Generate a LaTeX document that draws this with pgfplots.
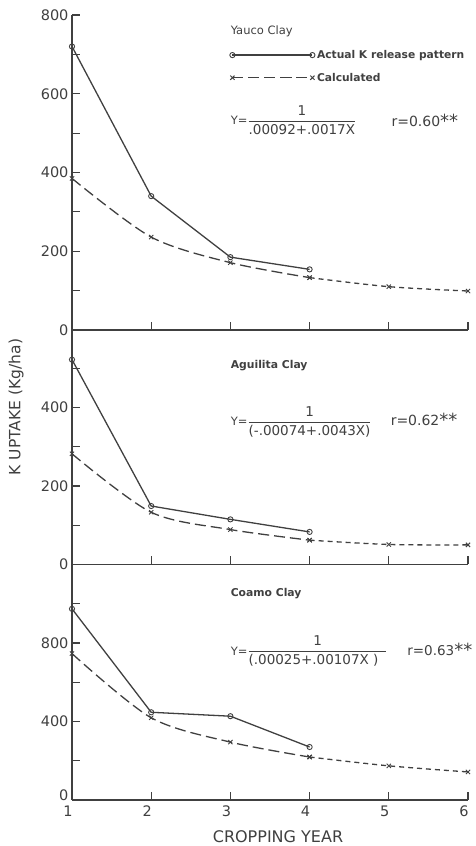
\documentclass[border=0pt]{standalone}
\usepackage{pgfplots}
\pgfplotsset{compat=1.18}
\usepackage{amsmath}
\usepackage{fontspec}
\setmainfont{DejaVu Sans}
\definecolor{ink}{gray}{0.25}

\newcommand{\stars}{\raisebox{-0.1em}{\fontsize{18}{18}\selectfont **}}
\newcommand{\Yeq}{\text{\fontsize{11.5}{11.5}\selectfont Y=}}
\tikzset{lbl/.style={anchor=west, text=ink}}
\pgfplotsset{
  panel/.style={
    width=396pt, scale only axis,
    xmin=1, xmax=6, ymin=0,
    axis x line=bottom, axis y line=left,
    axis line style={-, ink, line width=1.3pt},
    tick style={ink, line width=1.1pt},
    tick align=inside,
    major tick length=8pt, minor tick length=8pt,
    xtick={2,3,4,5,6}, xticklabels={},
    clip=false,
    ticklabel style={font=\fontsize{14.5}{14.5}\selectfont, text=ink},
    /pgf/number format/assume math mode=true,
    every axis plot/.append style={ink, line width=1.3pt},
  },
  actual/.style={solid, mark=o, mark size=2.6pt,
    mark options={solid, fill=white, line width=0.9pt}},
  calc/.style={smooth, dash pattern=on 11pt off 5pt, mark=x, mark size=3pt,
    mark options={solid, line width=0.9pt}},
  calcx/.style={smooth, dash pattern=on 5pt off 4pt, mark=x, mark size=3pt,
    mark options={solid, line width=0.9pt}},
}

\begin{document}
\begin{tikzpicture}
\useasboundingbox (0,0) rectangle (476pt,846pt);

% Yauco Clay
\begin{axis}[panel, height=315pt, at={(72pt,516pt)}, anchor=south west,
  ymax=800, ytick={0,200,400,600,800}, minor ytick={100,300,500,700},
  legend style={at={(axis cs:2.99,716)}, anchor=north west, draw=none, fill=none,
    font=\bfseries\fontsize{10.7}{10.7}\selectfont, text=ink,
    cells={anchor=west}, row sep=9pt, inner sep=0pt},
  legend image code/.code={\draw[#1] plot coordinates {(0pt,0pt) (80pt,0pt)};},
]
\addplot[actual] coordinates {(1,720) (2,340) (3,185) (4,154)};
\addlegendentry{Actual K release pattern}
\addplot[calc] coordinates {(1,385) (2,236) (3,171) (4,133)};
\addlegendentry{Calculated}
\addplot[calcx, forget plot] coordinates {(4,133) (5,110) (6,99)};
\node[lbl, font=\fontsize{11.5}{11.5}\selectfont] at (axis cs:2.96,759) {Yauco Clay};
\node[lbl, font=\fontsize{13.5}{13.5}\selectfont] at (axis cs:2.96,533)
  {$\Yeq\dfrac{\text{1}}{\text{.00092+.0017X}}$};
\node[lbl, font=\fontsize{14}{14}\selectfont] at (axis cs:4.99,531)
  {r=0.60\stars};
\end{axis}

% Aguilita Clay
\begin{axis}[panel, height=235.5pt, at={(72pt,281.5pt)}, anchor=south west,
  ymax=600, ytick={0,200,400}, minor ytick={100,300,500}]
\addplot[actual] coordinates {(1,522) (2,149) (3,115) (4,83)};
\addplot[calc] coordinates {(1,282) (2,133) (3,89) (4,62)};
\addplot[calcx] coordinates {(4,62) (5,51) (6,50)};
\node[lbl, font=\bfseries\fontsize{10.8}{10.8}\selectfont] at (axis cs:2.96,507) {Aguilita Clay};
\node[lbl, font=\fontsize{13.5}{13.5}\selectfont] at (axis cs:2.96,363)
  {$\Yeq\dfrac{\text{1}}{\text{(-.00074+.0043X)}}$};
\node[lbl, font=\fontsize{14}{14}\selectfont] at (axis cs:4.98,368)
  {r=0.62\stars};
\end{axis}

% Coamo Clay
\begin{axis}[panel, height=235.5pt, at={(72pt,46pt)}, anchor=south west,
  ymax=1200, ytick={400,800}, minor ytick={200,600,1000},
  extra y ticks={0}, extra y tick style={yticklabel style={yshift=5pt}},
  xtick={1,2,3,4,5,6}, xticklabels={1,2,3,4,5,6},
  xticklabel style={xshift=-4pt, yshift=-2pt}]
\addplot[actual] coordinates {(1,974) (2,447) (3,427) (4,270)};
\addplot[calc] coordinates {(1,746) (2,419) (3,295) (4,219)};
\addplot[calcx] coordinates {(4,219) (5,174) (6,143)};
\node[lbl, font=\bfseries\fontsize{10.8}{10.8}\selectfont] at (axis cs:2.96,1053) {Coamo Clay};
\node[lbl, font=\fontsize{13.5}{13.5}\selectfont] at (axis cs:2.96,759)
  {$\Yeq\dfrac{\text{1}}{\text{(.00025+.00107X )}\hspace{8pt}}$};
\node[lbl, font=\fontsize{13.5}{13.5}\selectfont] at (axis cs:5.19,765)
  {r=0.63\stars};
\end{axis}

\node[rotate=90, text=ink, font=\fontsize{15.5}{15.5}\selectfont] at (16pt,439pt) {K UPTAKE (Kg/ha)};
\node[text=ink, font=\fontsize{16}{16}\selectfont] at (278pt,9pt) {CROPPING YEAR};
\end{tikzpicture}
\end{document}
